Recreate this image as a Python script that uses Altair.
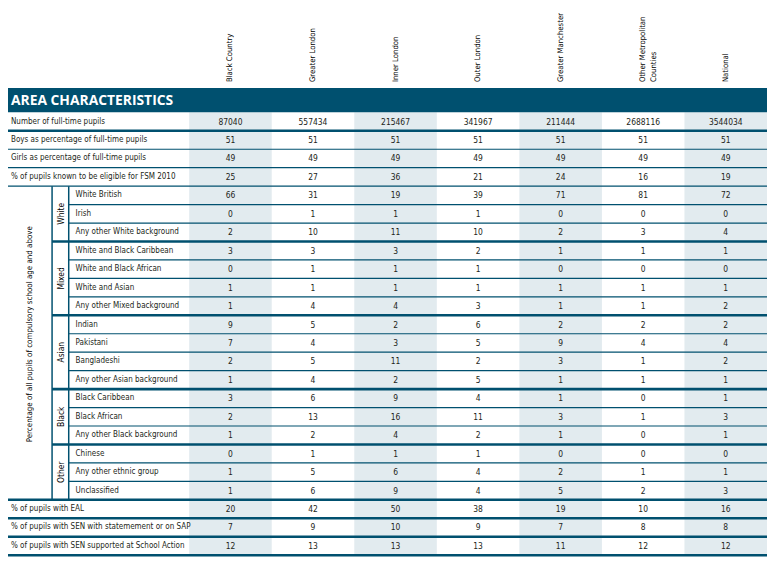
import altair as alt
import pandas as pd

# ---------------- data ----------------
areas = ["Black Country", "Greater London", "Inner London", "Outer London",
         "Greater Manchester", "Other Metropolitan\nCounties", "National"]

top_rows = ["Number of full-time pupils",
            "Boys as percentage of full-time pupils",
            "Girls as percentage of full-time pupils",
            "% of pupils known to be eligible for FSM 2010"]

group_names = ["White", "Mixed", "Asian", "Black", "Other"]
group_items = [
    ["White British", "Irish", "Any other White background"],
    ["White and Black Caribbean", "White and Black African", "White and Asian", "Any other Mixed background"],
    ["Indian", "Pakistani", "Bangladeshi", "Any other Asian background"],
    ["Black Caribbean", "Black African", "Any other Black background"],
    ["Chinese", "Any other ethnic group", "Unclassified"],
]

bottom_rows = ["% of pupils with EAL",
               "% of pupils with SEN with statemement or on SAP",
               "% of pupils with SEN supported at School Action"]

side_label = "Percentage of all pupils of compulsory school age and above"
title_text = "AREA CHARACTERISTICS"

black_country = [87040, 51, 49, 25, 66, 0, 2, 3, 0, 1, 1, 9, 7, 2, 1, 3, 2, 1, 0, 1, 1, 20, 7, 12]
greater_london = [557434, 51, 49, 27, 31, 1, 10, 3, 1, 1, 4, 5, 4, 5, 4, 6, 13, 2, 1, 5, 6, 42, 9, 13]
inner_london = [215467, 51, 49, 36, 19, 1, 11, 3, 1, 1, 4, 2, 3, 11, 2, 9, 16, 4, 1, 6, 9, 50, 10, 13]
outer_london = [341967, 51, 49, 21, 39, 1, 10, 2, 1, 1, 3, 6, 5, 2, 5, 4, 11, 2, 1, 4, 4, 38, 9, 13]
greater_manchester = [211444, 51, 49, 24, 71, 0, 2, 1, 0, 1, 1, 2, 9, 3, 1, 1, 3, 1, 0, 2, 5, 19, 7, 11]
other_metropolitan = [2688116, 51, 49, 16, 81, 0, 3, 1, 0, 1, 1, 2, 4, 1, 1, 0, 1, 0, 0, 1, 2, 10, 8, 12]
national = [3544034, 51, 49, 19, 72, 0, 4, 1, 0, 1, 2, 2, 4, 2, 1, 1, 3, 1, 0, 1, 3, 16, 8, 12]

values = [black_country, greater_london, inner_london, outer_london,
          greater_manchester, other_metropolitan, national]

# ---------------- layout (reference units) ----------------
REF_W, REF_H = 775, 561
W, H = 767, 553
TEAL = "#00506F"
SHADE = "#E2EBEF"
TXT = "#231F20"
FONT = "DejaVu Sans Condensed, DejaVu Sans, sans-serif"

X_DATA0 = 185.0
COL_W = (REF_W - X_DATA0) / len(areas)
BAND_TOP, BAND_BOT = 79.0, 104.0
N_ROWS = len(top_rows) + sum(len(g) for g in group_items) + len(bottom_rows)
ROW_H = (558.0 - BAND_BOT) / N_ROWS
X_OUTER, X_GROUP, X_ITEM = 45.0, 62.0, 69.0


def row_top(i):
    return BAND_BOT + i * ROW_H


def col_left(j):
    return X_DATA0 + j * COL_W


rows = []
for lab in top_rows:
    rows.append(dict(label=lab, lx=3.0))
gstart = len(rows)
group_spans = []
for gname, items in zip(group_names, group_items):
    s = len(rows)
    for it in items:
        rows.append(dict(label=it, lx=X_ITEM))
    group_spans.append((gname, s, len(rows)))
gend = len(rows)
for lab in bottom_rows:
    rows.append(dict(label=lab, lx=3.0))

row_df = pd.DataFrame([dict(label=r["label"], x=r["lx"], y=row_top(i) + ROW_H / 2)
                       for i, r in enumerate(rows)])

cell_df = pd.DataFrame([dict(v=str(values[j][i]), x=col_left(j) + COL_W / 2,
                             y=row_top(i) + ROW_H / 2)
                        for j in range(len(areas)) for i in range(N_ROWS)])

shade_df = pd.DataFrame([dict(x=col_left(j), x2=col_left(j) + COL_W,
                              y=row_top(0), y2=row_top(N_ROWS))
                         for j in range(0, len(areas), 2)])

band_df = pd.DataFrame([dict(x=0, x2=REF_W, y=BAND_TOP, y2=BAND_BOT)])
title_df = pd.DataFrame([dict(t=title_text, x=3, y=(BAND_TOP + BAND_BOT) / 2 + 0.5)])

head_df = pd.DataFrame([dict(t=a, x=col_left(j) + COL_W / 2, y=73)
                        for j, a in enumerate(areas)])

group_df = pd.DataFrame([dict(t=g, x=(X_OUTER + X_GROUP) / 2 + 0.5,
                              y=(row_top(s) + row_top(e)) / 2)
                         for g, s, e in group_spans])

side_df = pd.DataFrame([dict(t=side_label, x=22,
                             y=(row_top(gstart) + row_top(gend)) / 2 - 9)])

THIN, THICK = 1.2, 2.6
hl = []
for i in range(1, N_ROWS + 1):
    y = row_top(i)
    if i == 1:
        hl.append((0, y, THICK))
    elif i <= gstart:
        hl.append((0, y, THIN))
    elif i < gend:
        if any(e == i for _, _, e in group_spans):
            hl.append((X_OUTER, y, THICK))
        else:
            hl.append((X_GROUP, y, THIN))
    else:
        hl.append((0, y, THICK))
hline_df = pd.DataFrame([dict(x=a, x2=REF_W, y=y, y2=y, w=w) for a, y, w in hl])
vline_df = pd.DataFrame([dict(x=xv, x2=xv, y=row_top(gstart), y2=row_top(gend), w=1.5)
                         for xv in (X_OUTER, X_GROUP)])

xs = alt.Scale(domain=[0, REF_W], nice=False, zero=False)
ys = alt.Scale(domain=[0, REF_H], nice=False, zero=False, reverse=True)
X = lambda f="x": alt.X(f"{f}:Q", scale=xs, axis=None)
Y = lambda f="y": alt.Y(f"{f}:Q", scale=ys, axis=None)

shade = alt.Chart(shade_df).mark_rect(color=SHADE).encode(
    x=X(), x2="x2:Q", y=Y(), y2="y2:Q")
band = alt.Chart(band_df).mark_rect(color=TEAL).encode(
    x=X(), x2="x2:Q", y=Y(), y2="y2:Q")
hlines = alt.Chart(hline_df).mark_rule(color=TEAL).encode(
    x=X(), x2="x2:Q", y=Y(), y2="y2:Q",
    strokeWidth=alt.StrokeWidth("w:Q", scale=None))
vlines = alt.Chart(vline_df).mark_rule(color=TEAL).encode(
    x=X(), x2="x2:Q", y=Y(), y2="y2:Q",
    strokeWidth=alt.StrokeWidth("w:Q", scale=None))

title = alt.Chart(title_df).mark_text(
    align="left", baseline="middle", color="white", font="Open Sans",
    fontWeight="bold", fontSize=14).encode(x=X(), y=Y(), text="t:N")

labels = alt.Chart(row_df).mark_text(
    align="left", baseline="middle", color=TXT, font=FONT, fontSize=8.1).encode(
    x=X(), y=Y(), text="label:N")

cells = alt.Chart(cell_df).mark_text(
    align="center", baseline="middle", color=TXT, font=FONT, fontSize=8.5).encode(
    x=X(), y=Y(), text="v:N")

heads = alt.Chart(head_df).mark_text(
    align="left", baseline="middle", angle=270, color="black", font=FONT,
    fontSize=7.8, lineBreak="\n", lineHeight=11).encode(x=X(), y=Y(), text="t:N")

groups = alt.Chart(group_df).mark_text(
    align="center", baseline="middle", angle=270, color="black", font=FONT,
    fontSize=8.5).encode(x=X(), y=Y(), text="t:N")

side = alt.Chart(side_df).mark_text(
    align="center", baseline="middle", angle=270, color="black", font=FONT,
    fontSize=8).encode(x=X(), y=Y(), text="t:N")

chart = alt.layer(shade, band, hlines, vlines, title, labels, cells, heads, groups, side).properties(
    width=W, height=H,
    autosize=alt.AutoSizeParams(type="none"),
    padding=0,
).configure_view(stroke=None)

chart.save("out.html", embed_options={"renderer": "svg", "actions": False})
